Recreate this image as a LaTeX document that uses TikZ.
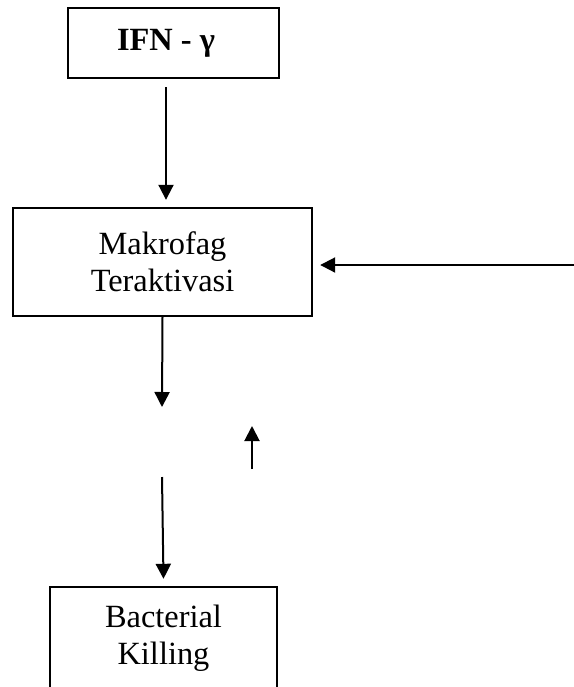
\documentclass[tikz,border=0pt]{standalone}
\usepackage{fontspec}
\setmainfont{Liberation Serif}
\usetikzlibrary{arrows.meta}
\tikzset{kotak/.style={draw,line width=1.2pt,align=center,inner sep=0pt,minimum width=#1},
  panah/.style={-{Triangle[length=7.5pt,width=7.5pt]},line width=1pt}}

\begin{document}
\begin{tikzpicture}[x=0.5pt,y=-0.5pt,font=\fontsize{16.2}{18.5}\selectfont]
    \useasboundingbox (0,0) rectangle (574,687);
    \node[kotak=105.5pt,minimum height=35pt,font=\fontsize{16.2}{18.5}\selectfont\bfseries] (ifn) at (173.5,43) {IFN - γ\hspace{7.5pt}};
    \node[kotak=149.5pt,minimum height=54pt] (mak) at (162.5,262) {Makrofag\\Teraktivasi};
    \node[kotak=113.5pt,minimum height=51.5pt] (bk) at (163.5,638.5) {Bacterial\\Killing};
    \coordinate (a1) at (162,407);
    \coordinate (a2) at (162,477);
    \coordinate (u1) at (252,469);
    \coordinate (u2) at (252,426);
    \coordinate (kanan) at (574,265);
    \draw[panah] ([xshift=-3.75pt,yshift=-4pt]ifn.south) -- ([xshift=1.75pt,yshift=3.5pt]mak.north);
    \draw[panah] (kanan) -- ([xshift=3.5pt]kanan -| mak.east);
    \draw[panah] (mak.south) -- (a1);
    \draw[panah] (u1) -- (u2);
    \draw[panah] (a2) -- ([yshift=3.5pt]bk.north);
\end{tikzpicture}
\end{document}
